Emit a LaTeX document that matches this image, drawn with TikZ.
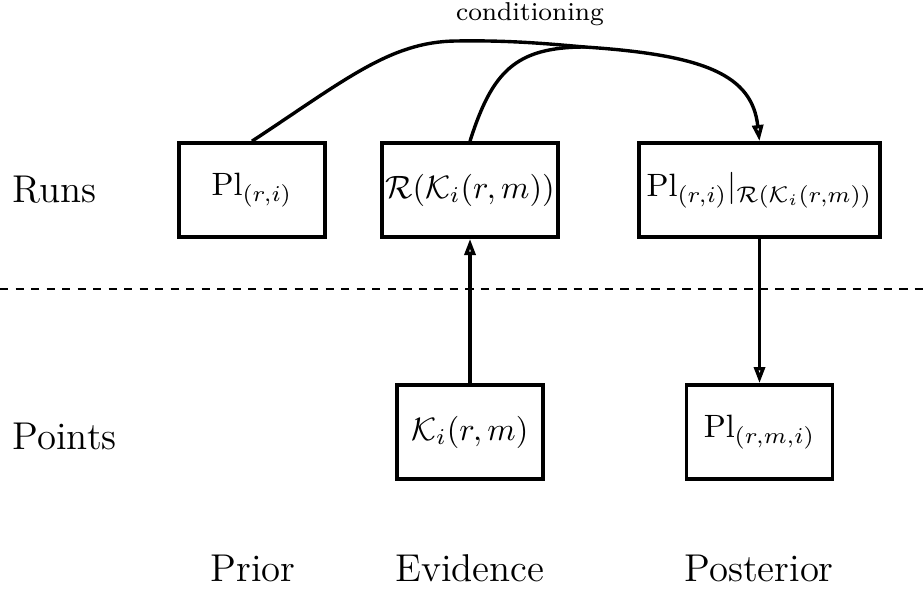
\documentclass[tikz,border=0pt]{standalone}
\usetikzlibrary{arrows.meta}
\def\boxht{29.2pt}
\def\boxwd{45.3pt}
\def\lw{1.05pt}

\begin{document}
\begin{tikzpicture}[x=0.3096pt,y=-0.3096pt,
    box/.style={
      draw, line width=\lw, minimum height=\boxht, minimum width=\boxwd, inner sep=1pt
    },
    arrowtip/.style={
      -{Triangle[open,length=5pt,width=3.4pt]}, line width=\lw
    },
    sidelabel/.style={font=\large, anchor=west, inner sep=0pt},
    collabel/.style={font=\large, inner sep=0pt}
  ]
    \useasboundingbox (0,0) rectangle (924,588);

    % runs row
    \node[box] (prior) at (252,190) {$\mathrm{Pl}_{(r,i)}$};
    \node[box, minimum width=52.8pt] (runev) at (470,190) {$\mathcal{R}(\mathcal{K}_i(r,m))$};
    \node[box, minimum width=74.7pt] (runpost) at (759.5,190) {$\mathrm{Pl}_{(r,i)}|_{\mathcal{R}(\mathcal{K}_i(r,m))}$};

    % points row
    \node[box] (ptev) at (470,432) {$\mathcal{K}_i(r,m)$};
    \node[box] (ptpost) at (759.5,432) {$\mathrm{Pl}_{(r,m,i)}$};

    \node[sidelabel] (runs) at (12,190) {Runs};
    \node[sidelabel] (points) at (12,436) {Points};

    \node[collabel] (lprior) at (253,568) {Prior};
    \node[collabel] (levid) at (470,568) {Evidence};
    \node[collabel] (lpost) at (759,568) {Posterior};

    \coordinate (left) at (0,289);
    \coordinate (right) at (924,289);
    \draw[line width=0.65pt, dash pattern=on 2.6pt off 2.2pt] (left) -- (right);

    % conditioning
    \coordinate (join) at (585,47);
    \node[font=\fontsize{8}{10}\selectfont] (cond) at (530,14) {conditioning};
    \draw[line width=\lw] (prior.north) .. controls (345,80) and (390,42) .. (455,41)
      .. controls (510,40) and (550,44) .. (join);
    \draw[line width=\lw] (runev.north) .. controls (492,72) and (515,47) .. (join);
    \draw[arrowtip] (join) .. controls (705,55) and (752,75) .. (runpost.north);

    \draw[arrowtip] (ptev.north) -- (runev.south);
    \draw[arrowtip] (runpost.south) -- (ptpost.north);
\end{tikzpicture}
\end{document}
